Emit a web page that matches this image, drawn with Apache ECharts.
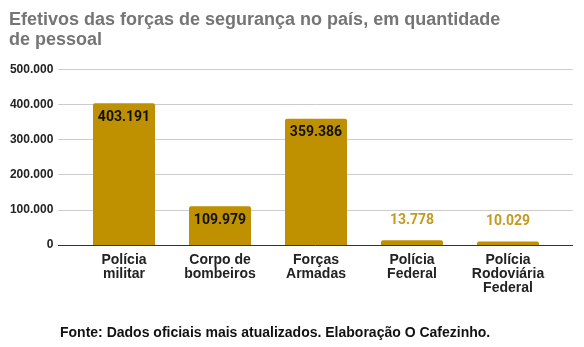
<!DOCTYPE html>
<html><head><meta charset="utf-8">
<script src="https://cdn.jsdelivr.net/npm/echarts@6/dist/echarts.min.js"></script>
<style>html,body{margin:0;padding:0;background:#fff}#c{width:584px;height:347px}</style>
</head><body><div id="c"></div>
<script>
const categories = ["Polícia\nmilitar", "Corpo de\nbombeiros", "Forças\nArmadas", "Polícia\nFederal", "Polícia\nRodoviária\nFederal"];
const values = [403191, 109979, 359386, 13778, 10029];
const insideLabel = [true, true, true, false, false];
const yTicks = [0, 100000, 200000, 300000, 400000, 500000];

const fmt = v => String(v).replace(/\B(?=(\d{3})+(?!\d))/g, '.');
const gold = '#BF9000';
const chart = echarts.init(document.getElementById('c'), null, {renderer: 'canvas'});
chart.setOption({
  animation: false,
  title: [{
    text: 'Efetivos das forças de segurança no país, em quantidade\nde pessoal',
    left: 9, top: 10, padding: 0,
    textStyle: {fontFamily: 'Liberation Sans', fontWeight: 'bold', fontSize: 18, color: '#757575', lineHeight: 20}
  }, {
    text: 'Fonte: Dados oficiais mais atualizados. Elaboração O Cafezinho.',
    left: 60, top: 326, padding: 0,
    textStyle: {fontFamily: 'Liberation Sans', fontWeight: 'bold', fontSize: 14, color: '#111'}
  }],
  grid: [
    {left: 76, right: 28, top: 69.3, bottom: 102},
    {left: 58.3, right: 11.3, top: 69.3, bottom: 102}
  ],
  xAxis: [{
    type: 'category', gridIndex: 0, data: categories,
    axisLine: {show: false}, axisTick: {show: false},
    axisLabel: {fontFamily: 'Liberation Sans', fontWeight: 'bold', fontSize: 14, color: '#222', lineHeight: 14, margin: 8, interval: 0}
  }, {
    type: 'value', gridIndex: 1, min: 0, max: 1,
    axisLine: {show: true, lineStyle: {color: '#333', width: 1}},
    axisTick: {show: false}, axisLabel: {show: false}, splitLine: {show: false}
  }],
  yAxis: [{
    type: 'value', gridIndex: 0, min: 0, max: 500000, interval: 100000, show: false
  }, {
    type: 'value', gridIndex: 1, min: yTicks[0], max: yTicks[yTicks.length - 1], interval: 100000,
    axisLine: {show: false}, axisTick: {show: false},
    axisLabel: {fontFamily: 'Liberation Sans', fontWeight: 'bold', fontSize: 12, color: '#222', margin: 5, formatter: v => fmt(v)},
    splitLine: {lineStyle: {color: '#cccccc', width: 1}}
  }],
  series: [{
    type: 'bar', xAxisIndex: 0, yAxisIndex: 0,
    barWidth: 62,
    itemStyle: {color: gold, borderRadius: [2, 2, 0, 0]},
    data: values.map((v, i) => ({
      value: v,
      label: insideLabel[i]
        ? {show: true, position: 'insideTop', distance: 7, color: '#111', fontFamily: 'Roboto', fontWeight: 'bold', fontSize: 14, formatter: p => fmt(p.value)}
        : {show: true, position: 'top', distance: 13, color: '#C69A1E', fontFamily: 'Roboto', fontWeight: 'bold', fontSize: 14, formatter: p => fmt(p.value)}
    }))
  }]
});
</script></body></html>
